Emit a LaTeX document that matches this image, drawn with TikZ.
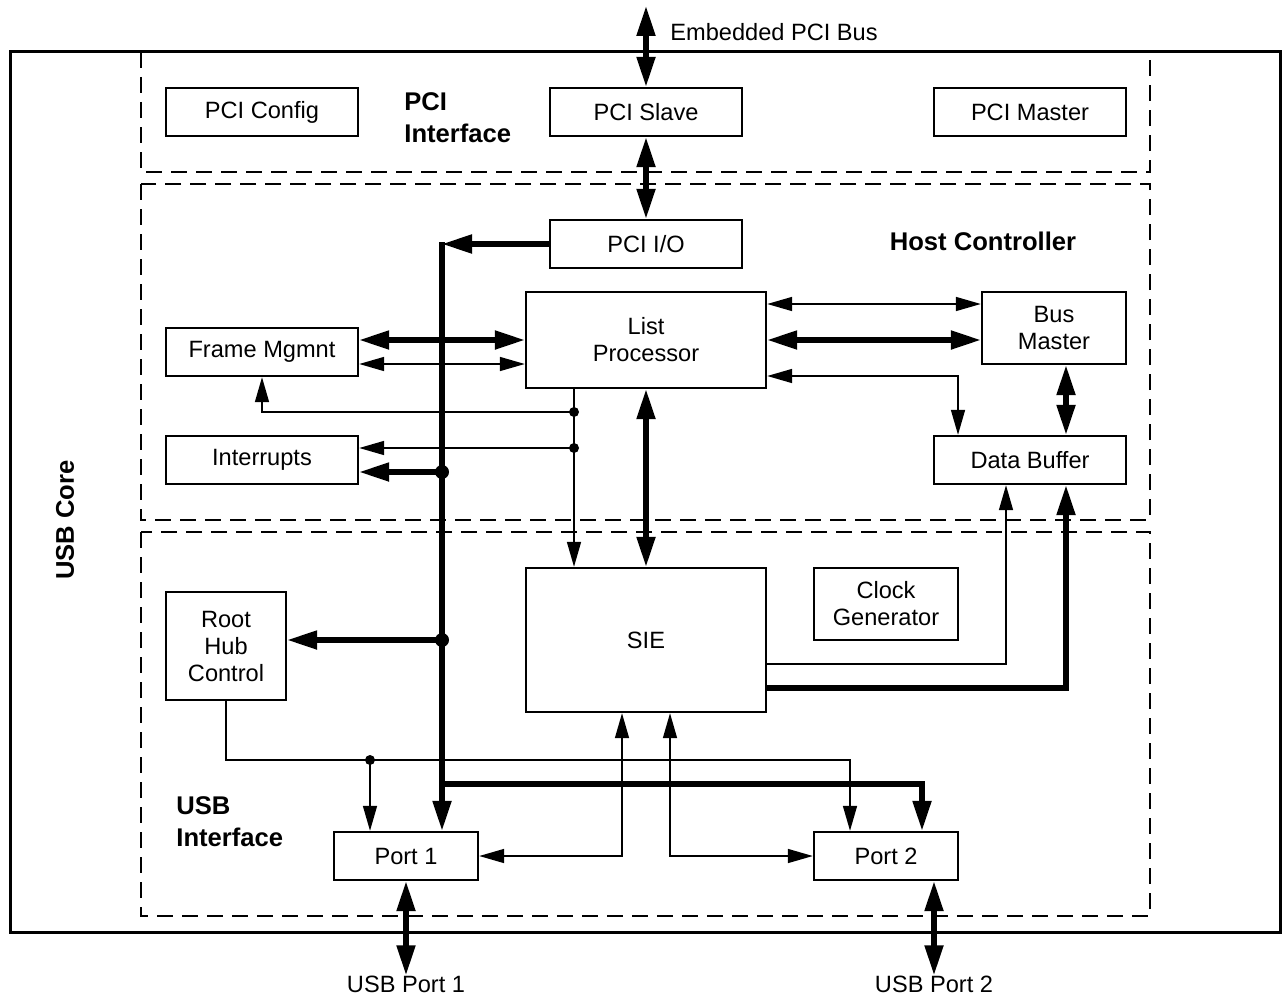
\documentclass[tikz,border=0pt]{standalone}
\usepackage{fontspec}
\setmainfont{Liberation Sans}
\usetikzlibrary{arrows.meta}
\tikzset{
 box/.style={draw, line width=1.2pt, inner sep=0pt, align=center, font=\fontsize{11.8}{13.5}\selectfont},
 thkline/.style={line width=2.6pt},
 thnline/.style={line width=0.8pt},
 thkarr/.style={thkline,-{Triangle[length=15pt,width=9pt]}},
 thkdbl/.style={thkline,{Triangle[length=15pt,width=9pt]}-{Triangle[length=15pt,width=9pt]}},
 thnarr/.style={thnline,-{Triangle[length=12.5pt,width=7pt]}},
 thndbl/.style={thnline,{Triangle[length=12.5pt,width=7pt]}-{Triangle[length=12.5pt,width=7pt]}},
 region/.style={dash pattern=on 8pt off 4.5pt, line width=1pt},
 lbl/.style={inner sep=0pt, font=\fontsize{11.8}{13.5}\selectfont},
 blbl/.style={inner sep=0pt, font=\fontsize{12.8}{16}\selectfont\bfseries, align=left},
 wbox/.style={box, minimum width=96pt, minimum height=24pt},
}
\begin{document}
\begin{tikzpicture}[x=0.5pt,y=-0.5pt]
\useasboundingbox (0,0) rectangle (1283,995);
% outer frame and regions
\draw[line width=1.5pt] (10,52) rectangle (1280,932);
\draw[region] (141,52) -- (141,172) -- (1150,172) -- (1150,52);
\draw[region] (141,184) rectangle (1150,520);
\draw[region] (141,532) rectangle (1150,916);
% labels
\node[blbl, rotate=90] (usbcore) at (65,520) {USB Core};
\node[blbl, anchor=west] (pciint) at (404,118) {PCI\\Interface};
\node[blbl] (hostc) at (983,241) {Host Controller};
\node[blbl, anchor=west] (usbint) at (176,822) {USB\\Interface};
\node[lbl, anchor=west] (epcilbl) at (670,32) {Embedded PCI Bus};
\node[lbl] (usb1) at (406,984) {USB Port 1};
\node[lbl] (usb2) at (934,984) {USB Port 2};
% boxes
\node[wbox] (pciconfig) at (262,112) {PCI Config};
\node[wbox] (pcislave) at (646,112) {PCI Slave};
\node[wbox] (pcimaster) at (1030,112) {PCI Master};
\node[wbox] (pciio) at (646,244) {PCI I/O};
\node[box, minimum width=120pt, minimum height=48pt] (listproc) at (646,340) {List\\Processor};
\node[box, minimum width=72pt, minimum height=36pt] (busmaster) at (1054,328) {Bus\\Master};
\node[wbox] (databuf) at (1030,460) {Data Buffer};
\node[wbox] (frame) at (262,352) {Frame Mgmnt};
\node[wbox] (interrupts) at (262,460) {Interrupts};
\node[box, minimum width=120pt, minimum height=72pt] (sie) at (646,640) {SIE};
\node[box, minimum width=72pt, minimum height=36pt] (clock) at (886,604) {Clock\\Generator};
\node[box, minimum width=60pt, minimum height=54pt] (roothub) at (226,646) {Root\\Hub\\Control};
\node[box, minimum width=72pt, minimum height=24pt] (port1) at (406,856) {Port 1};
\node[box, minimum width=72pt, minimum height=24pt] (port2) at (886,856) {Port 2};
% coordinates
\coordinate (epci) at (646,6);
\coordinate (busTop) at (442,242);
\coordinate (busIn) at (442,244);
\coordinate (busBend) at (442,784);
\coordinate (dInt) at (442,472);
\coordinate (dRH) at (442,640);
\coordinate (jF) at (574,412);
\coordinate (jI) at (574,448);
\coordinate (jR) at (370,760);
\coordinate (p2a) at ([xshift=-18pt]port2.north);
\coordinate (p2b) at ([xshift=18pt]port2.north);
\coordinate (s1) at ([xshift=-12pt]sie.south);
\coordinate (s2) at ([xshift=12pt]sie.south);
\coordinate (p2s) at ([xshift=24pt]port2.south);
\coordinate (dbA) at ([xshift=-36pt]databuf.north);
\coordinate (dbB) at ([xshift=-12pt]databuf.south);
\coordinate (dbC) at ([xshift=18pt]databuf.south);
% PCI connectors
\draw[thkdbl] (epci) -- (pcislave.north);
\draw[thkdbl] (pcislave.south) -- (pciio.north);
% internal bus
\draw[thkarr] (busTop) -- (busTop |- port1.north);
\draw[thkarr] (busBend) -| (p2b);
\draw[thkarr] (pciio.west) -- (busIn);
\draw[thkarr] (dInt) -- (interrupts.east |- dInt);
\draw[thkarr] (dRH) -- (roothub.east |- dRH);
\fill (dInt) circle (3.5pt);
\fill (dRH) circle (3.5pt);
% frame management
\draw[thkdbl] ([yshift=6pt]frame.east) -- (listproc.west);
\draw[thndbl] ([yshift=-6pt]frame.east) -- ([yshift=-12pt]listproc.west);
\draw[thnarr] (listproc.south -| jF) -- (sie.north -| jF);
\draw[thnarr] (jF) -| (frame.south);
\draw[thnarr] (jI) -- (interrupts.east |- jI);
\fill (jF) circle (2.5pt);
\fill (jI) circle (2.5pt);
% list processor
\draw[thkdbl] (listproc.south) -- (sie.north);
\draw[thndbl] ([yshift=18pt]listproc.east) -- ([yshift=12pt]busmaster.west);
\draw[thkdbl] (listproc.east) -- ([yshift=-6pt]busmaster.west);
\draw[thndbl] ([yshift=-18pt]listproc.east) -| (dbA);
\draw[thkdbl] ([xshift=6pt]busmaster.south) -- ([xshift=18pt]databuf.north);
% SIE to data buffer
\draw[thnarr] ([yshift=-12pt]sie.east) -| (dbB);
\draw[thkarr] ([yshift=-24pt]sie.east) -| (dbC);
% root hub to ports
\draw[thnarr] (roothub.south) |- (p2a |- jR) -- (p2a);
\draw[thnarr] (jR) -- (jR |- port1.north);
\fill (jR) circle (2.5pt);
% SIE to ports
\draw[thndbl] (s1) |- (port1.east);
\draw[thndbl] (s2) |- (port2.west);
% USB ports
\draw[thkdbl] (port1.south) -- (port1.south |- usb1.north);
\draw[thkdbl] (p2s) -- (p2s |- usb2.north);
\end{tikzpicture}
\end{document}
